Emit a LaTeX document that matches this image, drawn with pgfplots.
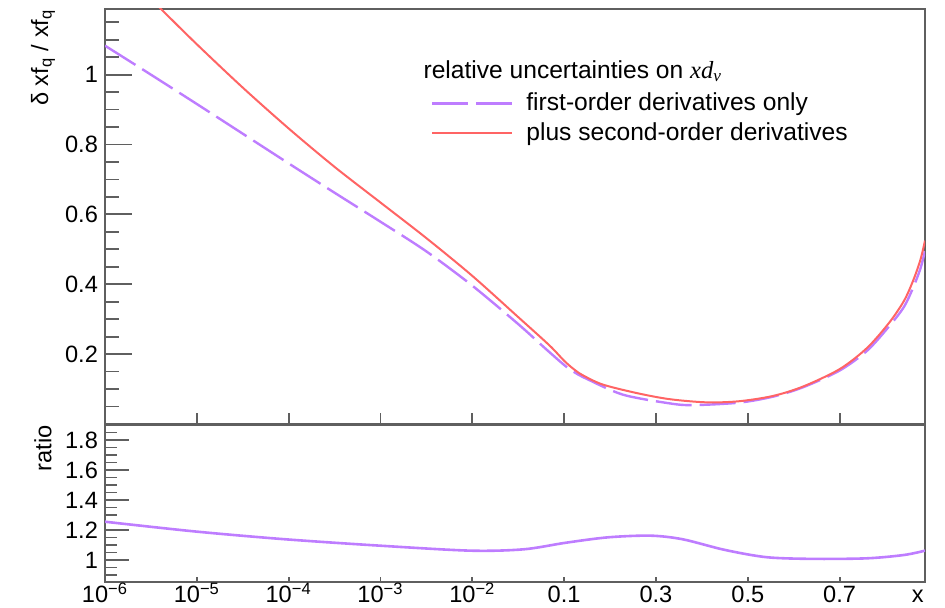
\documentclass[border=0pt]{standalone}
\usepackage{pgfplots}
\pgfplotsset{compat=1.18}
\usepackage{pgfplotstable}
\usepackage{fontspec}
\setmainfont{Liberation Sans}
\newfontfamily\timesfont{Liberation Serif}
\definecolor{lpurple}{RGB}{190,125,255}
\definecolor{lred}{RGB}{255,100,100}
\definecolor{axgray}{RGB}{95,95,95}

% x positions u: 0..4 = 1e-6..1e-2 (log), 5=0.1, 6=0.3, 7=0.5, 8=0.7 (linear)
\pgfplotstableread{
u v
0.35 1.257
0.61 1.188
1.00 1.087
1.50 0.963
2.00 0.846
2.50 0.736
3.00 0.634
3.50 0.532
4.00 0.424
4.50 0.306
4.84 0.225
5.00 0.181
5.10 0.158
5.20 0.140
5.42 0.113
5.80 0.088
6.15 0.071
6.55 0.062
6.90 0.065
7.27 0.080
7.60 0.107
8.00 0.157
8.30 0.218
8.54 0.290
8.70 0.352
8.80 0.410
8.88 0.470
8.93 0.525
}\redtab

\pgfplotstableread{
u v
0.00 1.083
0.50 1.000
1.00 0.916
1.50 0.831
2.00 0.746
2.50 0.662
3.00 0.579
3.50 0.494
4.00 0.396
4.50 0.286
4.80 0.215
5.00 0.169
5.10 0.150
5.24 0.130
5.64 0.084
6.15 0.059
6.40 0.054
6.90 0.061
7.27 0.078
7.60 0.105
8.00 0.153
8.30 0.210
8.54 0.280
8.70 0.335
8.80 0.390
8.88 0.445
8.93 0.495
}\purptab

\pgfplotstableread{
u v
0.00 1.255
0.98 1.190
1.96 1.138
3.00 1.095
3.98 1.062
4.56 1.071
5.02 1.115
5.48 1.151
5.94 1.162
6.29 1.138
6.75 1.067
7.21 1.018
7.73 1.007
8.30 1.011
8.70 1.033
8.93 1.062
}\ratiotab

\begin{document}
\begin{tikzpicture}
\useasboundingbox (0,0) rectangle (472.5pt,304pt);
\pgfplotsset{
  common/.style={
    scale only axis, width=410pt, xmin=0, xmax=8.93,
    xtick={0,1,2,3,4,5,6,7,8},
    axis line style={axgray, line width=1pt},
    every tick/.style={axgray, line width=0.9pt},
    tick align=inside,
    xtick pos=left, ytick pos=left,
    /pgf/number format/assume math mode=true,
    tick label style={font=\fontsize{11.8}{13}\selectfont},
    clip mode=individual,
  }
}
\begin{axis}[common,
  at={(52.5pt,92pt)}, anchor=south west, height=207.5pt,
  ymin=0, ymax=1.188,
  ytick={0.2,0.4,0.6,0.8,1},
  minor ytick={0.05,0.1,0.15,0.25,0.3,0.35,0.45,0.5,0.55,0.65,0.7,0.75,0.85,0.9,0.95,1.05,1.1,1.15},
  xticklabels={},
  xtick style={/pgfplots/major tick length=5.5pt},
  ytick style={/pgfplots/major tick length=13.5pt},
  minor y tick style={/pgfplots/minor tick length=7pt},
  legend style={at={(0.39,0.818)}, anchor=north west, draw=none, fill=none,
    font=\fontsize{12.3}{14}\selectfont, legend cell align=left, row sep=0.5pt},
  legend image code/.code={\draw[#1] (0pt,0pt) -- (40pt,0pt); \path[draw=none] (0pt,0pt) -- (45pt,0pt);},
]
\addplot[lpurple, line width=1.2pt, smooth, dash pattern=on 18pt off 4pt] table[x=u,y=v] {\purptab};
\addlegendentry{first-order derivatives only}
\addplot[lred, line width=1pt, smooth] table[x=u,y=v] {\redtab};
\addlegendentry{plus second-order derivatives}
\node[anchor=west, font=\fontsize{12.3}{14}\selectfont, inner sep=0pt] at (rel axis cs:0.388,0.85)
  {relative uncertainties on {\timesfont\itshape xd}\textsubscript{\timesfont\itshape v}};
\node[xshift=-31pt, rotate=90, anchor=east, inner sep=0pt, font=\fontsize{11.8}{13}\selectfont]
  at (rel axis cs:0,1) {δ xf\textsubscript{q} / xf\textsubscript{q}};
\end{axis}

\begin{axis}[common,
  at={(52.5pt,13pt)}, anchor=south west, height=78.5pt,
  ymin=0.853, ymax=1.9,
  ytick={1,1.2,1.4,1.6,1.8},
  minor ytick={0.9,0.95,1.05,1.1,1.15,1.25,1.3,1.35,1.45,1.5,1.55,1.65,1.7,1.75,1.85},
  xticklabels={10\textsuperscript{−6},10\textsuperscript{−5},10\textsuperscript{−4},10\textsuperscript{−3},10\textsuperscript{−2},0.1,0.3,0.5,0.7},
  xticklabel style={anchor=base, yshift=-10.5pt},
  xtick style={/pgfplots/major tick length=2.5pt},
  ytick style={/pgfplots/major tick length=12pt},
  minor y tick style={/pgfplots/minor tick length=6pt},
]
\addplot[lpurple, line width=1.3pt, smooth] table[x=u,y=v] {\ratiotab};
\node[xshift=-31pt, rotate=90, anchor=east, inner sep=0pt, font=\fontsize{11.8}{13}\selectfont]
  at (rel axis cs:0,1) {ratio};
\node[anchor=base east, inner sep=0pt, font=\fontsize{11.8}{13}\selectfont]
  at (rel axis cs:1,0) [yshift=-10.5pt, xshift=-0.5pt] {x};
\end{axis}
\end{tikzpicture}
\end{document}
